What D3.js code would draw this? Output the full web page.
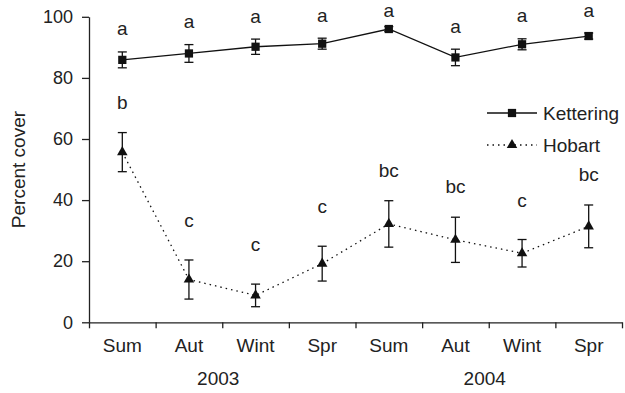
<!DOCTYPE html>
<html>
<head>
<meta charset="utf-8">
<script src="https://cdn.jsdelivr.net/npm/d3@7"></script>
<style>
  body { margin: 0; background: #fff; }
  text { font-family: "Liberation Sans", Arial, sans-serif; fill: #222; }
</style>
</head>
<body>
<div id="chart"></div>
<script>
// data
const seasons = ["Sum", "Aut", "Wint", "Spr", "Sum", "Aut", "Wint", "Spr"];
const years = ["2003", "2004"];
const yTicks = [0, 20, 40, 60, 80, 100];

const kettMean = [85.9, 88.0, 90.2, 91.2, 96.0, 86.7, 91.0, 93.7];
const kettSE = [2.6, 2.9, 2.5, 1.8, 0.8, 2.7, 1.8, 1.0];
const kettLetters = ["a", "a", "a", "a", "a", "a", "a", "a"];

const hobMean = [55.7, 14.0, 8.8, 19.2, 32.2, 27.0, 22.6, 31.4];
const hobSE = [6.4, 6.4, 3.7, 5.7, 7.6, 7.4, 4.5, 7.0];
const hobLetters = ["b", "c", "c", "c", "bc", "bc", "c", "bc"];

const width = 625, height = 393;
const plotLeft = 89, plotRight = 622, plotTop = 16.8, plotBottom = 322.3;

const svg = d3.select("#chart").append("svg")
  .attr("width", width)
  .attr("height", height);

// scales
const xEdge = d3.scaleLinear().domain([0, seasons.length]).range([plotLeft, plotRight]);
const x = i => xEdge(i + 0.5);
const y = d3.scaleLinear().domain([0, 100]).range([plotBottom, plotTop]);

// y axis
const yAxis = svg.append("g")
  .attr("transform", "translate(" + plotLeft + ",0)")
  .call(d3.axisLeft(y).tickValues(yTicks).tickSize(7).tickSizeOuter(0).tickPadding(9));
yAxis.selectAll("text").style("font-size", "18px").attr("fill", "#222");
yAxis.selectAll("line,path").attr("stroke", "#222").attr("stroke-width", 1.3);

// x axis (ticks at band edges)
const xAxis = svg.append("g")
  .attr("transform", "translate(0," + plotBottom + ")")
  .call(d3.axisBottom(xEdge).ticks(seasons.length).tickSize(6).tickSizeOuter(0).tickFormat(""));
xAxis.selectAll("line,path").attr("stroke", "#222").attr("stroke-width", 1.3);

svg.append("g").selectAll("text")
  .data(seasons)
  .enter().append("text")
  .attr("x", (d, i) => x(i))
  .attr("y", 352)
  .attr("text-anchor", "middle")
  .style("font-size", "19px")
  .text(d => d);

svg.append("g").selectAll("text")
  .data(years)
  .enter().append("text")
  .attr("x", (d, i) => xEdge(i * 4 + 2) - 4)
  .attr("y", 385)
  .attr("text-anchor", "middle")
  .style("font-size", "19px")
  .text(d => d);

svg.append("text")
  .attr("transform", "translate(25," + y(50) + ") rotate(-90)")
  .attr("text-anchor", "middle")
  .style("font-size", "19px")
  .text("Percent cover");

// series
const series = [
  { name: "Kettering", mean: kettMean, se: kettSE, letters: kettLetters, dash: null, shape: d3.symbolSquare,
    gap: t => 16.5 },
  { name: "Hobart", mean: hobMean, se: hobSE, letters: hobLetters, dash: "1.5,4", shape: d3.symbolTriangle,
    gap: t => t.includes("b") ? 24 : 33 }
];

const line = d3.line().x((d, i) => x(i)).y(d => y(d));

series.forEach(s => {
  const g = svg.append("g");

  g.append("path")
    .attr("d", line(s.mean))
    .attr("fill", "none")
    .attr("stroke", "#111")
    .attr("stroke-width", 1.3)
    .attr("stroke-dasharray", s.dash);

  // error bars
  const eb = g.selectAll(".eb")
    .data(s.mean)
    .enter().append("g");
  eb.append("line")
    .attr("x1", (d, i) => x(i)).attr("x2", (d, i) => x(i))
    .attr("y1", (d, i) => y(d - s.se[i])).attr("y2", (d, i) => y(d + s.se[i]));
  eb.append("line")
    .attr("x1", (d, i) => x(i) - 4.5).attr("x2", (d, i) => x(i) + 4.5)
    .attr("y1", (d, i) => y(d - s.se[i])).attr("y2", (d, i) => y(d - s.se[i]));
  eb.append("line")
    .attr("x1", (d, i) => x(i) - 4.5).attr("x2", (d, i) => x(i) + 4.5)
    .attr("y1", (d, i) => y(d + s.se[i])).attr("y2", (d, i) => y(d + s.se[i]));
  eb.selectAll("line").attr("stroke", "#111").attr("stroke-width", 1.3);

  // markers
  g.selectAll(".pt")
    .data(s.mean)
    .enter().append("path")
    .attr("transform", (d, i) => "translate(" + x(i) + "," + y(d) + ")")
    .attr("d", d3.symbol().type(s.shape).size(s.shape === d3.symbolSquare ? 68 : 48))
    .attr("fill", "#111");

  // significance letters
  g.selectAll(".lt")
    .data(s.letters)
    .enter().append("text")
    .attr("x", (d, i) => x(i))
    .attr("y", (d, i) => Math.max(17, y(s.mean[i] + s.se[i]) - s.gap(d)))
    .attr("text-anchor", "middle")
    .style("font-size", "19px")
    .text(d => d);
});

// legend
const legend = svg.append("g");
series.forEach((s, k) => {
  const ly = 113 + k * 32;
  legend.append("line")
    .attr("x1", 487).attr("x2", 537)
    .attr("y1", ly).attr("y2", ly)
    .attr("stroke", "#111").attr("stroke-width", 1.3)
    .attr("stroke-dasharray", s.dash);
  legend.append("path")
    .attr("transform", "translate(512," + ly + ")")
    .attr("d", d3.symbol().type(s.shape).size(s.shape === d3.symbolSquare ? 68 : 48))
    .attr("fill", "#111");
  legend.append("text")
    .attr("x", 543).attr("y", ly + 7)
    .style("font-size", "19px")
    .text(s.name);
});
</script>
</body>
</html>
